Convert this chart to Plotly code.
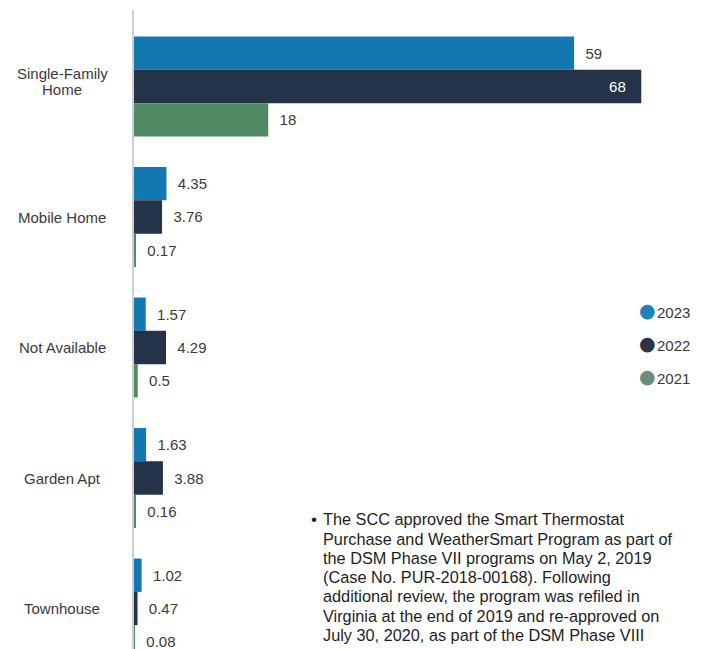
import plotly.graph_objects as go

# Participants by home type (thousands)
categories = ["Single-Family<br>Home", "Mobile Home", "Not Available", "Garden Apt", "Townhouse"]
years = ["2023", "2022", "2021"]
v2023 = [59, 4.35, 1.57, 1.63, 1.02]
v2022 = [68, 3.76, 4.29, 3.88, 0.47]
v2021 = [18, 0.17, 0.5, 0.16, 0.08]

note_lines = [
    "The SCC approved the Smart Thermostat",
    "Purchase and WeatherSmart Program as part of",
    "the DSM Phase VII programs on May 2, 2019",
    "(Case No. PUR-2018-00168). Following",
    "additional review, the program was refiled in",
    "Virginia at the end of 2019 and re-approved on",
    "July 30, 2020, as part of the DSM Phase VIII",
]

colors = {"2023": "#1378b0", "2022": "#253348", "2021": "#4f8a64"}
legend_colors = {"2023": "#1a84b8", "2022": "#2c3446", "2021": "#6a8f79"}
FONT = "Arial, Liberation Sans, sans-serif"
TXT = "#3a3a3a"
NB = "\u00a0"

W, H = 707, 649
ML, MR, MT, MB = 134, 7, 10, 0
PW, PH = W - ML - MR, H - MT - MB


def px_x(x):
    return (x - ML) / PW


def px_y(y):
    return (H - MB - y) / PH


fig = go.Figure()

series = {"2023": v2023, "2022": v2022, "2021": v2021}
for yr in years:
    vals = series[yr]
    # the longest bar carries its label inside, in white
    inside = [v == max(v2022) and yr == "2022" for v in vals]
    texts = [(f"{v:g}" + NB * 3) if ins else (NB * 2 + f"{v:g}") for v, ins in zip(vals, inside)]
    fig.add_trace(go.Bar(
        y=categories, x=vals, name=yr, orientation="h",
        marker=dict(color=colors[yr], line=dict(width=0)),
        text=texts,
        textposition=["inside" if i else "outside" for i in inside],
        insidetextanchor="end",
        textfont=dict(family=FONT, size=15, color=["white" if i else TXT for i in inside]),
        constraintext="none",
        cliponaxis=False,
        showlegend=False,
        hoverinfo="skip",
    ))

annotations = []
# category labels, centered in the left margin, tight line spacing
for c in categories:
    parts = c.split("<br>")
    n = len(parts)
    for i, part in enumerate(parts):
        annotations.append(dict(
            x=px_x(62), xref="paper", y=c, yref="y", text=part, showarrow=False,
            xanchor="center", yanchor="middle", align="center",
            yshift=((n - 1) / 2 - i) * 16 + 5 * (n > 1),
            font=dict(family=FONT, size=15, color=TXT),
        ))

# legend entries with round swatches
for yr, ly in zip(years, [312, 345, 378]):
    annotations.append(dict(
        x=px_x(647), xref="paper", y=px_y(ly), yref="paper", showarrow=False,
        xanchor="center", yanchor="middle", yshift=2,
        text="●", font=dict(family="DejaVu Sans", size=19, color=legend_colors[yr]),
    ))
    annotations.append(dict(
        x=px_x(655), xref="paper", y=px_y(ly), yref="paper", showarrow=False,
        xanchor="left", yanchor="middle", text=yr,
        font=dict(family=FONT, size=15, color=TXT),
    ))

# bulleted note
line_y = [519, 538.5, 557.5, 577, 596, 615.5, 634.5]
annotations.append(dict(
    x=px_x(314), xref="paper", y=px_y(line_y[0]), yref="paper", text="•",
    showarrow=False, xanchor="center", yanchor="middle",
    font=dict(family=FONT, size=17, color="#1e1e1e"),
))
for t, ly in zip(note_lines, line_y):
    annotations.append(dict(
        x=px_x(321), xref="paper", y=px_y(ly), yref="paper", text=t,
        showarrow=False, xanchor="left", yanchor="middle",
        font=dict(family=FONT, size=16.3, color="#1e1e1e"),
    ))

fig.update_layout(
    width=W, height=H,
    margin=dict(l=ML, r=MR, t=MT, b=MB, pad=0),
    paper_bgcolor="white", plot_bgcolor="white",
    barmode="group", bargap=0.234, bargroupgap=0,
    showlegend=False,
    annotations=annotations,
    xaxis=dict(range=[0, PW / 7.46], visible=False, fixedrange=True),
    yaxis=dict(
        type="category", range=[4.31, -0.586], showticklabels=False,
        showline=True, linecolor="#cfcfcf", linewidth=1.5, ticks="",
        showgrid=False, zeroline=False, fixedrange=True,
    ),
)

fig.write_html("out.html")
